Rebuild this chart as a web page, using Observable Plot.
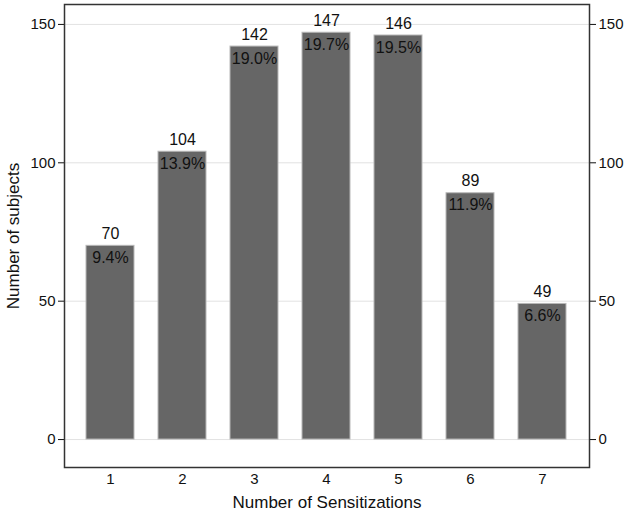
<!DOCTYPE html>
<html>
<head>
<meta charset="utf-8">
<script src="https://cdn.jsdelivr.net/npm/d3@7"></script>
<script src="https://cdn.jsdelivr.net/npm/@observablehq/plot@0.6"></script>
<style>
  html, body { margin: 0; padding: 0; background: #fff; }
</style>
</head>
<body>
<div id="chart"></div>
<script>
const categories = [1, 2, 3, 4, 5, 6, 7];
const counts = [70, 104, 142, 147, 146, 89, 49];
const percents = ["9.4%", "13.9%", "19.0%", "19.7%", "19.5%", "11.9%", "6.6%"];
const yTicks = [0, 50, 100, 150];

const data = categories.map((c, i) => ({cat: c, count: counts[i], pct: percents[i]}));

const chart = Plot.plot({
  width: 625,
  height: 513,
  marginTop: 4,
  marginBottom: 46,
  marginLeft: 64,
  marginRight: 36,
  style: {fontFamily: "'Liberation Sans', Arial, sans-serif", fontSize: "15px", color: "#111", background: "#fff"},
  x: {type: "band", domain: categories, paddingInner: 0.33, paddingOuter: 0.265},
  y: {domain: [-10.1, 157.2]},
  marks: [
    Plot.gridY(yTicks, {stroke: "#e2e2e2", strokeOpacity: 1, strokeWidth: 1}),
    Plot.barY(data, {x: "cat", y: "count", fill: "#666666", stroke: "#b8b8b8", strokeWidth: 1}),
    Plot.text(data, {x: "cat", y: "count", text: d => String(d.count), dy: -12, fontSize: 16, fill: "#111"}),
    Plot.text(data, {x: "cat", y: "count", text: "pct", dy: 12, fontSize: 16, fill: "#111"}),
    Plot.axisY(yTicks, {anchor: "left", tickSize: 6, tickPadding: 3, fontSize: 15, label: "Number of subjects", labelAnchor: "center", labelArrow: "none", labelOffset: 58}),
    Plot.axisY(yTicks, {anchor: "right", tickSize: 6, tickPadding: 3, fontSize: 15, label: null}),
    Plot.axisX(categories, {tickSize: 0, tickPadding: 6, fontSize: 15, label: "Number of Sensitizations", labelAnchor: "center", labelArrow: "none", labelOffset: 40}),
    Plot.frame({stroke: "#333", strokeWidth: 1.5})
  ]
});
chart.querySelectorAll("[aria-label='y-axis label'], [aria-label='x-axis label']").forEach(g => g.setAttribute("font-size", "17"));
document.getElementById("chart").append(chart);
</script>
</body>
</html>
